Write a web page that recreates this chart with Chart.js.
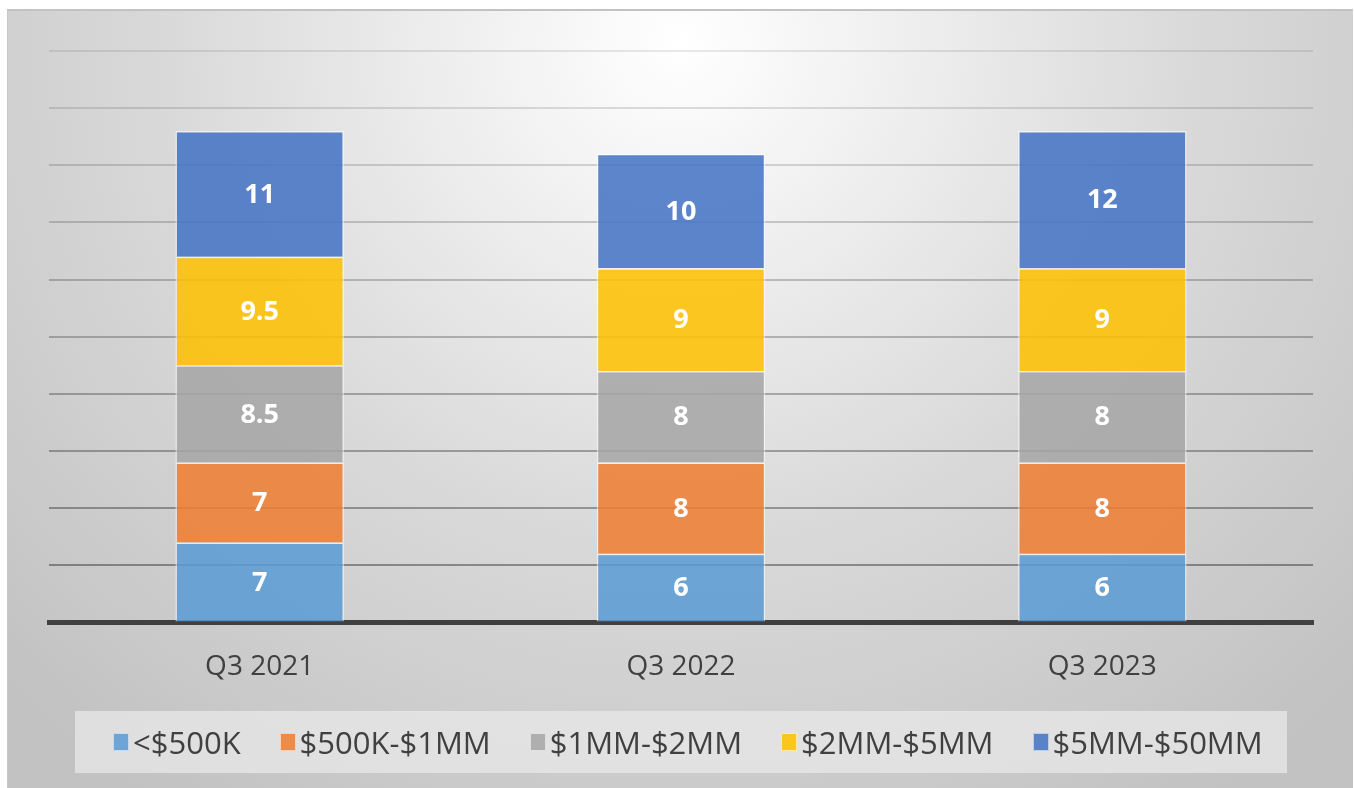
<!DOCTYPE html>
<html>
<head>
<meta charset="utf-8">
<script src="https://cdn.jsdelivr.net/npm/chart.js@4.4.1/dist/chart.umd.min.js"></script>
<style>
    html, body { margin: 0; padding: 0; background: #ffffff; }
    body { width: 1354px; height: 788px; position: relative; overflow: hidden; }
    .card {
        position: absolute; left: 7px; top: 9px; width: 1345px; height: 790px;
        border-top: 2px solid #c2c2c2; border-left: 1px solid #c8c8c8;
        background: radial-gradient(ellipse 70% 115% at 50% 4%, #ffffff 0%, #eeeeee 25%, #d9d9d9 55%, #c2c2c2 100%);
    }
    .wrap { position: absolute; left: 0; top: 0; width: 1354px; height: 788px; }
    .legend {
        position: absolute; left: 75px; top: 711px; width: 1212px; height: 62px;
        background: rgba(232, 232, 232, 0.75);
        display: flex; align-items: center; box-sizing: border-box; padding-left: 38px;
        font-family: "Open Sans", sans-serif; font-size: 31px; color: #404040;
    }
    .legend .item { display: flex; align-items: center; margin-right: 39px; white-space: nowrap; }
    .legend .box { width: 14px; height: 16px; border: 1px solid rgba(255,255,255,0.6); margin-right: 4px; }
</style>
</head>
<body>
<div class="card"></div>
<div class="wrap"><canvas id="chart" width="1354" height="788"></canvas></div>
<div class="legend" id="legend"></div>
<script>
// Data
const quarters = ['Q3 2021', 'Q3 2022', 'Q3 2023'];
const seriesNames = ['<$500K', '$500K-$1MM', '$1MM-$2MM', '$2MM-$5MM', '$5MM-$50MM'];
const under500k = [7, 6, 6];
const from500kTo1mm = [7, 8, 8];
const from1mmTo2mm = [8.5, 8, 8];
const from2mmTo5mm = [9.5, 9, 9];
const from5mmTo50mm = [11, 10, 12];
const seriesColors = ['rgba(91,155,213,0.86)', 'rgba(237,125,49,0.86)', 'rgba(165,165,165,0.86)',
    'rgba(255,192,0,0.86)', 'rgba(68,114,196,0.86)'];

const seriesValues = [under500k, from500kTo1mm, from1mmTo2mm, from2mmTo5mm, from5mmTo50mm];

// Legend
const legendEl = document.getElementById('legend');
seriesNames.forEach((name, i) => {
    const item = document.createElement('div');
    item.className = 'item';
    item.innerHTML = `<span class="box" style="background:${seriesColors[i]}"></span><span>${name}</span>`;
    legendEl.appendChild(item);
});

// Value labels in the middle of each segment
const segmentLabels = {
    id: 'segmentLabels',
    afterDatasetsDraw(chart) {
        const ctx = chart.ctx;
        ctx.save();
        ctx.font = 'bold 27px "Open Sans", sans-serif';
        ctx.fillStyle = '#ffffff';
        ctx.textAlign = 'center';
        ctx.textBaseline = 'middle';
        chart.data.datasets.forEach((ds, i) => {
            chart.getDatasetMeta(i).data.forEach((bar, j) => {
                ctx.fillText(String(ds.data[j]), bar.x, (bar.y + bar.base) / 2 + 1);
            });
        });
        ctx.restore();
    }
};

const ctx = document.getElementById('chart').getContext('2d');
new Chart(ctx, {
    type: 'bar',
    data: {
        labels: quarters,
        datasets: seriesNames.map((name, i) => ({
            label: name,
            data: seriesValues[i],
            backgroundColor: seriesColors[i],
            borderColor: 'rgba(255,255,255,0.55)',
            borderWidth: 1.5,
            barPercentage: 0.4,
            categoryPercentage: 1.0
        }))
    },
    options: {
        responsive: false,
        animation: false,
        layout: { padding: { left: 49, right: 41, top: 51, bottom: 84 } },
        plugins: {
            legend: { display: false },
            tooltip: { enabled: false }
        },
        scales: {
            x: {
                stacked: true,
                grid: { display: false },
                border: { color: '#404040', width: 5 },
                ticks: {
                    font: { family: 'Open Sans', size: 28 },
                    color: '#404040',
                    padding: 20
                }
            },
            y: {
                stacked: true,
                min: 0,
                max: 50,
                ticks: { display: false, stepSize: 5 },
                border: { display: false },
                grid: {
                    drawTicks: false,
                    lineWidth: 2,
                    color: c => {
                        const v = c.tick ? c.tick.value : 0;
                        if (v === 0) return 'rgba(0,0,0,0)';
                        const a = 0.36 - (v - 5) / 45 * 0.27;
                        return `rgba(0,0,0,${a.toFixed(3)})`;
                    }
                }
            }
        }
    },
    plugins: [segmentLabels]
});
</script>
</body>
</html>
